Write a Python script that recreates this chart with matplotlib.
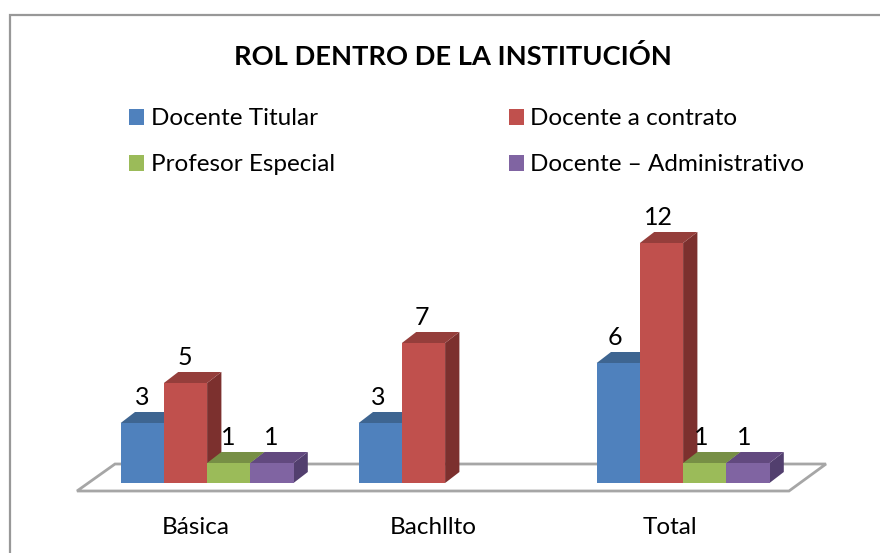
import matplotlib
matplotlib.use("Agg")
import matplotlib.pyplot as plt
from matplotlib.patches import Patch, Polygon, Rectangle

plt.rcParams['font.family'] = ['Lato', 'DejaVu Sans']

title = "ROL DENTRO DE LA INSTITUCIÓN"
categories = ["Básica", "Bachllto", "Total"]
series = ["Docente Titular", "Docente a contrato", "Profesor Especial", "Docente – Administrativo"]
docente_titular = [3, 3, 6]
docente_contrato = [5, 7, 12]
profesor_especial = [1, None, 1]
docente_admin = [1, None, 1]
values = [docente_titular, docente_contrato, profesor_especial, docente_admin]
front = ["#4F81BD", "#C0504D", "#9BBB59", "#8064A2"]
top = ["#3E6591", "#953E3B", "#778F45", "#62497F"]
side = ["#3A5F8B", "#7C302E", "#6A7F3C", "#523F6E"]

W, H = 880, 553
fig = plt.figure(figsize=(W / 100, H / 100), dpi=100)
ax = fig.add_axes([0, 0, 1, 1])
# one category = 238 px, one value unit = 20 px, baseline at pixel row 483
ux, uy = 238.0, 20.0
x0, y0 = 207.1, 483.0
ax.set_xlim(-x0 / ux, (W - x0) / ux)
ax.set_ylim(-(H - y0) / uy, y0 / uy)
ax.axis("off")

def px(x, y):
    return ((x - x0) / ux, (y0 - y) / uy)

# chart frame
ax.add_patch(Polygon([px(9.5, 560), px(9.5, 15), px(890, 15)], closed=False,
                     fill=False, ec="#989898", lw=1.6, zorder=1))
# floor
ax.add_patch(Polygon([px(77, 491), px(789, 491), px(826, 464), px(115, 464)], closed=True,
                     fc="white", ec="#A6A6A6", lw=2, zorder=2))

bw = 43.2 / ux
dx, dy = 14.3 / ux, 11 / uy
for c in range(len(categories)):
    for s in range(len(series)):
        v = values[s][c]
        if v is None:
            continue
        l = c + (s - 2) * bw
        r = l + bw
        z = 4 + s * 0.1
        ax.add_patch(Polygon([(r, 0), (r + dx, dy), (r + dx, v + dy), (r, v)], fc=side[s], ec="none", zorder=z))
        ax.add_patch(Polygon([(l, v), (r, v), (r + dx, v + dy), (l + dx, v + dy)], fc=top[s], ec="none", zorder=z + 0.01))
        ax.add_patch(Rectangle((l, 0), bw, v, fc=front[s], ec="none", zorder=z + 0.02))
        ax.text(l + bw / 2 - (0.5 + 1.5 * c) / ux, v + dy + 0.17, str(v), ha="center", va="bottom",
                fontsize=18, color="black", zorder=8)

for c, name in enumerate(categories):
    ax.text(c - (11.1 + 1.2 * c) / ux, -2.2, name, ha="center", va="center", fontsize=17.5, color="black")

ax.text(*px(453, 56.5), title, ha="center", va="center", fontsize=19.6, fontweight="bold", color="black")

order = [0, 2, 1, 3]
handles = [Patch(fc=front[i], ec="none", label=series[i]) for i in order]
ax.legend(handles=handles, ncol=2, frameon=False, fontsize=17.5, loc="upper left",
          bbox_to_anchor=(122 / W, 1 - 101 / H), bbox_transform=fig.transFigure,
          handlelength=0.62, handleheight=0.62, handletextpad=0.26, labelspacing=1.03,
          columnspacing=7.17, borderpad=0.3, borderaxespad=0)

fig.savefig("out.png", dpi=100)
